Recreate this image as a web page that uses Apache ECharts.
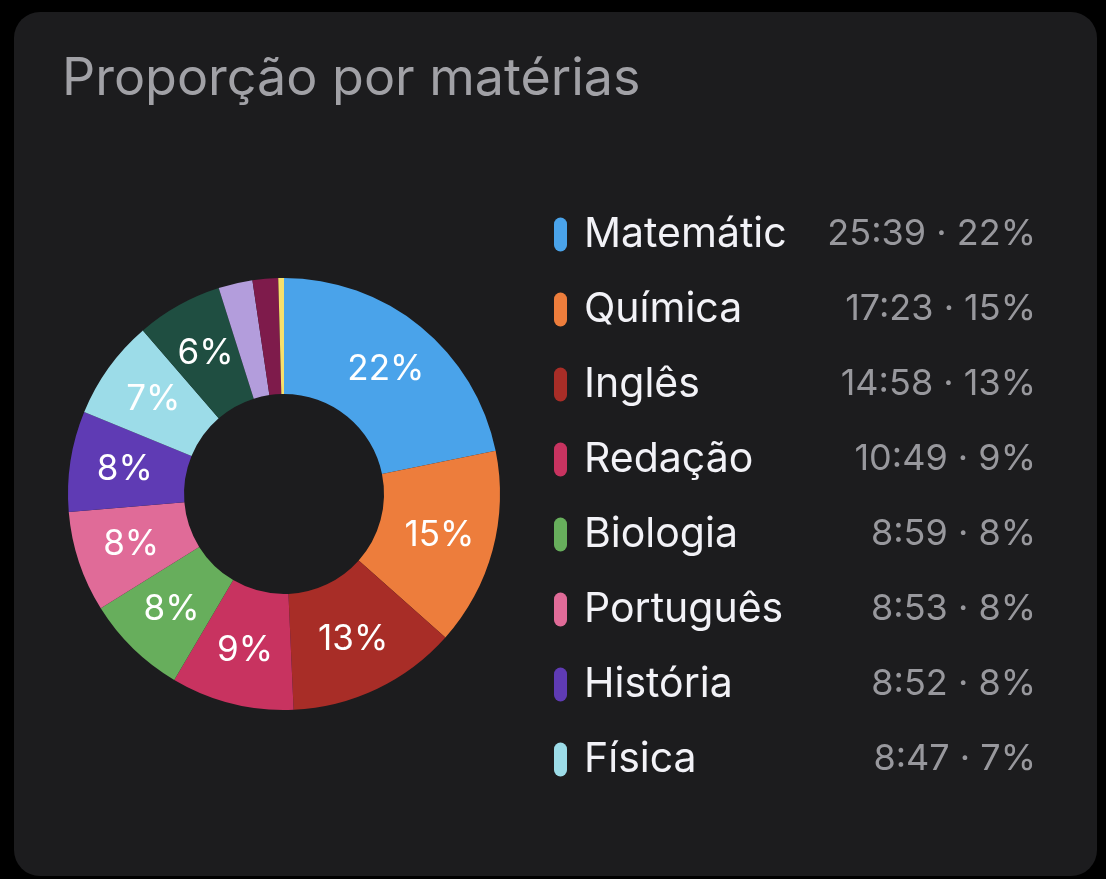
<!DOCTYPE html>
<html>
<head>
<meta charset="utf-8">
<script src="https://cdn.jsdelivr.net/npm/echarts@6/dist/echarts.min.js"></script>
<style>
  html, body { margin: 0; padding: 0; background: #000; }
  #card {
    position: absolute; left: 14px; top: 12px;
    width: 1083px; height: 864px;
    border-radius: 26px; background: #1c1c1e; overflow: hidden;
  }
</style>
</head>
<body>
<div id="card"></div>
<script>
// materias, tempo em minutos
const subjects = ["Matemátic", "Química", "Inglês", "Redação", "Biologia", "Português", "História", "Física", "Outra 1", "Outra 2", "Outra 3", "Outra 4"];
const minutes = [1539, 1043, 898, 649, 539, 533, 532, 527, 455, 180, 135, 30];
const timeLabels = ["25:39", "17:23", "14:58", "10:49", "8:59", "8:53", "8:52", "8:47"];
const colors = ["#4aa3ea", "#ed7d3c", "#a82d27", "#c83360", "#67ae5c", "#e06b98", "#5f3bb4", "#9cdce8", "#1f4e41", "#b39ddc", "#7e1b4b", "#f7e06b"];

const total = minutes.reduce((a, b) => a + b, 0);

let chart = echarts.init(document.getElementById("card"));

let option = {
  backgroundColor: "transparent",
  title: {
    text: "Proporção por matérias",
    left: 43,
    top: 36,
    textStyle: {
      color: "#a1a1a6",
      fontSize: 52,
      fontWeight: "normal",
      fontFamily: "Inter",
    },
  },
  legend: {
    orient: "vertical",
    left: 535,
    top: 197,
    itemWidth: 13,
    itemHeight: 34,
    itemGap: 34,
    icon: "path://M0,6.5A6.5,6.5,0,0,1,13,6.5L13,27.5A6.5,6.5,0,0,1,0,27.5Z",
    data: subjects.slice(0, 8),
    selectedMode: false,
    formatter: (name) => {
      let i = subjects.indexOf(name);
      let pct = Math.round((minutes[i] / total) * 100);
      return `{n|${name}}{v|${timeLabels[i]} · ${pct}%}`;
    },
    textStyle: {
      rich: {
        n: {
          color: "#f2f2f7",
          fontSize: 41,
          fontFamily: "Inter",
          width: 226,
          padding: [0, 0, 0, 12],
          lineHeight: 36,
        },
        v: {
          color: "#98989d",
          fontSize: 36,
          fontFamily: "Inter",
          width: 226,
          align: "right",
          lineHeight: 36,
        },
      },
    },
  },
  series: [
    {
      type: "pie",
      center: [270, 482],
      radius: [100, 216],
      startAngle: 90,
      clockwise: true,
      avoidLabelOverlap: false,
      silent: true,
      label: {
        show: true,
        position: "inside",
        color: "#ffffff",
        fontSize: 35,
        fontFamily: "Inter",
        formatter: (p) => (p.percent < 5 ? "" : Math.round(p.percent) + "%"),
      },
      labelLine: { show: false },
      itemStyle: { borderWidth: 0 },
      data: minutes.map((v, i) => ({
        name: subjects[i],
        value: v,
        itemStyle: { color: colors[i] },
      })),
    },
  ],
};

chart.setOption(option);
</script>
</body>
</html>
